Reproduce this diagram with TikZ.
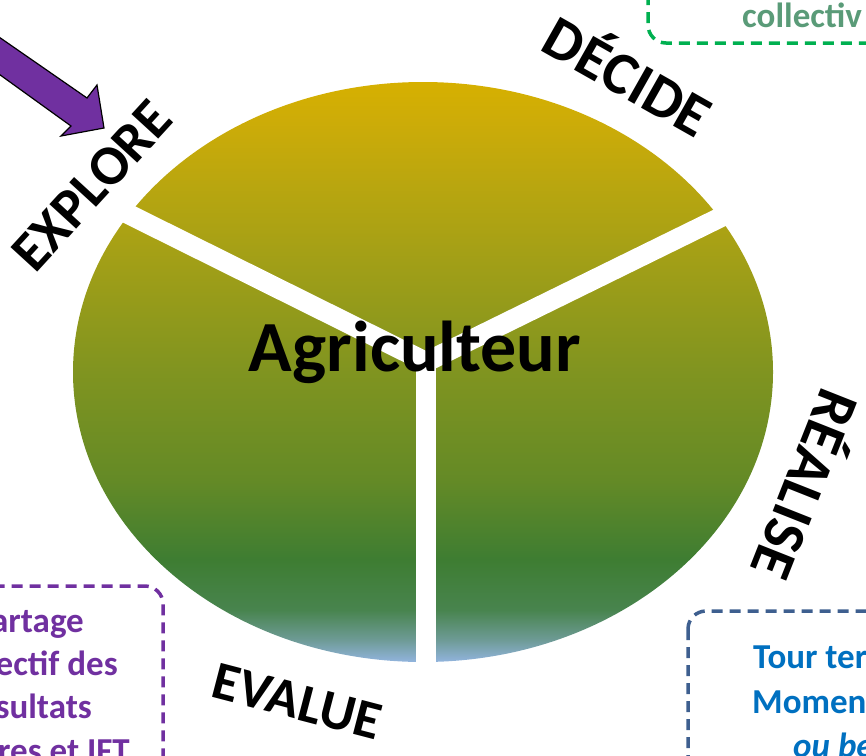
\documentclass[tikz,border=0pt]{standalone}
\usepackage{fontspec}
\setmainfont{Carlito}
\definecolor{cB0}{RGB}{146,180,222}
\definecolor{cB1}{RGB}{110,155,150}
\definecolor{cB2}{RGB}{72,132,78}
\definecolor{cB3}{RGB}{62,125,50}
\definecolor{cB4}{RGB}{100,138,38}
\definecolor{cB5}{RGB}{128,148,32}
\definecolor{cB6}{RGB}{165,160,22}
\definecolor{cB7}{RGB}{205,172,8}
\definecolor{cB8}{RGB}{214,176,0}
\definecolor{arrowpurple}{RGB}{112,48,160}
\definecolor{boxgreen}{RGB}{0,176,80}
\definecolor{txtgreen}{RGB}{90,155,120}
\definecolor{boxpurple}{RGB}{112,48,160}
\definecolor{boxblue}{RGB}{62,95,143}
\definecolor{txtblue}{RGB}{0,112,192}
\pgfdeclareverticalshading{agri}{100bp}{color(0bp)=(cB0); color(25bp)=(cB0); color(26.9bp)=(cB1); color(29.5bp)=(cB2); color(33.8bp)=(cB3); color(40.7bp)=(cB4); color(50bp)=(cB5); color(60.5bp)=(cB6); color(71.7bp)=(cB7); color(75bp)=(cB8); color(100bp)=(cB8)}
\tikzset{
  gap/.style={draw=white, line width=20pt, line join=miter},
  steplabel/.style={inner sep=0pt, anchor=center, text depth=0pt},
  dashbox/.style={line width=3.5pt, dash pattern=on 11pt off 7pt, rounded corners=18pt},
  boxtext/.style={inner sep=0pt, font=\bfseries\fontsize{35}{42}\selectfont},
}
\begin{document}
\begin{tikzpicture}[x=1pt,y=-1pt]
\useasboundingbox (0,0) rectangle (866,755);
\clip (0,0) rectangle (866,755);
% ellipse
\shade[shading=agri] (423,372) ellipse [x radius=350pt, y radius=290pt];
% white separators
\coordinate (J) at (426,362);
\coordinate (gL) at (100,200);
\coordinate (gR) at (760,198);
\coordinate (gB) at (426,700);
\draw[gap] (gL) -- (J) -- (gR);
\draw[gap] (J) -- (gB);
% centre text
\node[inner sep=0pt, anchor=base, font=\bfseries\fontsize{72}{86}\selectfont] (agri) at (415,371) {Agriculteur};
% step labels
\node[steplabel, rotate=47.5, text height=36pt, font=\bfseries\fontsize{56}{68}\selectfont] (explore) at (92,186) {EXPLORE};
\node[steplabel, rotate=-29.5, text height=38pt, font=\bfseries\fontsize{60}{72}\selectfont] (decide) at (627,78) {DÉCIDE};
\node[steplabel, rotate=-111.6, text height=38pt, font=\bfseries\fontsize{60}{72}\selectfont] (realise) at (804,484) {RÉALISE};
\node[steplabel, rotate=-14.6, text height=34pt, font=\bfseries\fontsize{54}{65}\selectfont] (evalue) at (297,702) {EVALUE};
% purple block arrow
\filldraw[fill=arrowpurple, draw=black, line width=1.2pt, line join=miter]
  (-40,10) -- (87,98) -- (97,85) -- (104,128) -- (61,136) -- (71,126) -- (-40,46) -- cycle;
% green box (top right)
\draw[dashbox, boxgreen] (648,-60) rectangle (940,43);
\node[boxtext, text=txtgreen, anchor=base west] (tg1) at (742,27) {collectiv};
% purple box (bottom left)
\draw[dashbox, boxpurple] (-80,586) rectangle (163,820);
\node[boxtext, text=boxpurple, anchor=base east] (tp1) at (84,632) {artage};
\node[boxtext, text=boxpurple, anchor=base east] (tp2) at (118,675) {ectif des};
\node[boxtext, text=boxpurple, anchor=base east] (tp3) at (92,718) {sultats};
\node[boxtext, text=boxpurple, anchor=base east] (tp4) at (130,762) {res et IFT};
% blue box (bottom right)
\draw[dashbox, boxblue] (688,611) rectangle (940,820);
\node[boxtext, text=txtblue, anchor=base west] (tb1) at (753,668) {Tour ter};
\node[boxtext, text=txtblue, anchor=base west] (tb2) at (752,713) {Momen};
\node[boxtext, text=txtblue, anchor=base west, font=\bfseries\itshape\fontsize{35}{42}\selectfont] (tb3) at (793,757) {ou be};
\end{tikzpicture}
\end{document}
